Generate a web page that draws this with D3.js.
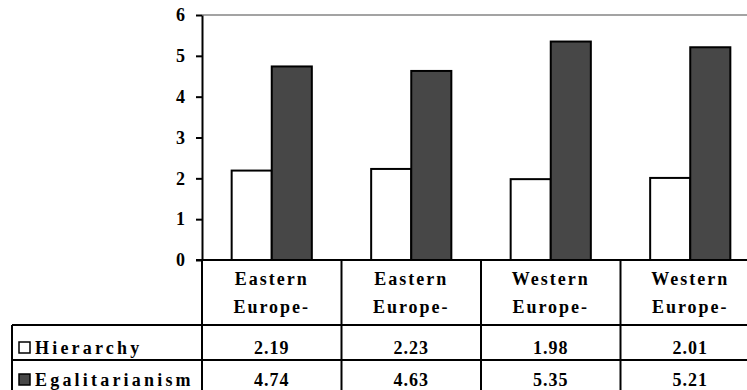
<!DOCTYPE html>
<html>
<head>
<meta charset="utf-8">
<script src="https://cdn.jsdelivr.net/npm/d3@7"></script>
<style>
  body { margin: 0; background: #fff; }
</style>
</head>
<body>
<svg id="chart" width="747" height="390"></svg>
<script>
// Regions (two-line column headers)
const categoryLines = [
  ["Eastern", "Europe-"],
  ["Eastern", "Europe-"],
  ["Western", "Europe-"],
  ["Western", "Europe-"]
];
const seriesNames = ["Hierarchy", "Egalitarianism"];
const hierarchy = [2.19, 2.23, 1.98, 2.01];
const egalitarianism = [4.74, 4.63, 5.35, 5.21];
const yTicks = [0, 1, 2, 3, 4, 5, 6];
const seriesFill = ["#ffffff", "#474747"];

const seriesValues = [hierarchy, egalitarianism];
const FONT = "Liberation Serif, Times New Roman, serif";

const svg = d3.select("#chart");
const W = 747;

// Plot frame (the right edge runs past the visible area)
const plot = { left: 202, right: 760, top: 15, bottom: 260 };
const table = { left: 12, headerBottom: 325, row1Bottom: 360, row2Bottom: 395 };

const x = d3.scaleBand()
  .domain(d3.range(categoryLines.length))
  .range([plot.left, plot.right])
  .padding(0);

const x1 = d3.scaleBand()
  .domain(seriesNames)
  .range([0, x.bandwidth()])
  .paddingInner(0)
  .paddingOuter(0.74);

const y = d3.scaleLinear().domain([0, 6]).range([plot.bottom, plot.top]);

// Top border of the plot area
svg.append("line")
  .attr("x1", plot.left).attr("x2", W)
  .attr("y1", y(6)).attr("y2", y(6))
  .attr("stroke", "#a3a3a3").attr("stroke-width", 2);

// Bars
const groups = svg.append("g").selectAll("g")
  .data(seriesNames)
  .join("g");

groups.each(function (name, si) {
  d3.select(this).selectAll("rect")
    .data(seriesValues[si])
    .join("rect")
    .attr("x", (d, i) => x(i) + x1(name))
    .attr("y", d => y(d))
    .attr("width", x1.bandwidth())
    .attr("height", d => y(0) - y(d))
    .attr("fill", seriesFill[si])
    .attr("stroke", "#000")
    .attr("stroke-width", 2);
});

// Y axis
const yAxis = svg.append("g")
  .attr("transform", `translate(${plot.left},0)`)
  .call(d3.axisLeft(y).tickValues(yTicks).tickFormat(d3.format("d")).tickSize(6).tickPadding(11).tickSizeOuter(0));
yAxis.attr("font-family", FONT).attr("font-size", 18).attr("font-weight", "bold");
yAxis.select(".domain").attr("stroke", "#000").attr("stroke-width", 2);
yAxis.selectAll(".tick line").attr("stroke", "#000").attr("stroke-width", 2);
yAxis.selectAll(".tick text").attr("fill", "#000");

// Data table grid
const grid = svg.append("g").attr("stroke", "#000").attr("stroke-width", 2);
grid.append("line").attr("x1", plot.left - 6).attr("x2", W).attr("y1", y(0)).attr("y2", y(0));
[table.headerBottom, table.row1Bottom].forEach(yy => {
  grid.append("line").attr("x1", table.left).attr("x2", W).attr("y1", yy).attr("y2", yy);
});
grid.append("line").attr("x1", table.left).attr("x2", table.left)
  .attr("y1", table.headerBottom).attr("y2", table.row2Bottom);
d3.range(categoryLines.length + 1).forEach(i => {
  const xx = i < categoryLines.length ? x(i) : plot.right;
  grid.append("line").attr("x1", xx).attr("x2", xx)
    .attr("y1", y(0)).attr("y2", table.row2Bottom);
});

// Column headers
const header = svg.append("g").selectAll("text")
  .data(categoryLines)
  .join("text")
  .attr("text-anchor", "middle")
  .attr("font-family", FONT)
  .attr("font-weight", "bold")
  .attr("font-size", 18)
  .attr("letter-spacing", 2);
header.each(function (lines, i) {
  const t = d3.select(this);
  lines.forEach((ln, k) => {
    t.append("tspan")
      .attr("x", x(i) + x.bandwidth() / 2)
      .attr("y", 285 + k * 28)
      .text(ln);
  });
});

// Table rows: legend key, series name, values
const rowBaselines = [354, 386];
seriesNames.forEach((name, si) => {
  const base = rowBaselines[si];
  svg.append("rect")
    .attr("x", 19).attr("y", base - 12)
    .attr("width", 11).attr("height", 11)
    .attr("fill", seriesFill[si])
    .attr("stroke", "#000").attr("stroke-width", 1.5);
  svg.append("text")
    .attr("x", 35).attr("y", base)
    .attr("font-family", FONT)
    .attr("font-weight", "bold")
    .attr("font-size", 18)
    .attr("letter-spacing", 3.2)
    .text(name);
  svg.append("g").selectAll("text")
    .data(seriesValues[si])
    .join("text")
    .attr("x", (d, i) => x(i) + x.bandwidth() / 2)
    .attr("y", base)
    .attr("text-anchor", "middle")
    .attr("font-family", FONT)
    .attr("font-weight", "bold")
    .attr("font-size", 18)
    .attr("letter-spacing", 1)
    .text(d => d3.format(".2f")(d));
});
</script>
</body>
</html>
